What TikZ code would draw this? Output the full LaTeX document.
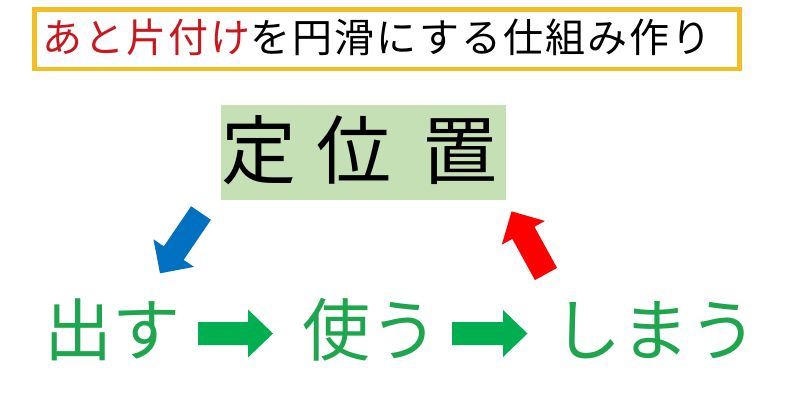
\documentclass[tikz,border=0pt]{standalone}
\usepackage{fontspec}
\newfontfamily\jp{Noto Sans CJK JP}
\newfontfamily\jptitle[LetterSpace=5.2]{Noto Sans CJK JP}
\definecolor{gold}{RGB}{242,190,34}
\definecolor{titlered}{RGB}{200,24,30}
\definecolor{boxgreen}{RGB}{197,224,180}
\definecolor{txtgreen}{RGB}{30,166,78}
\definecolor{arrgreen}{RGB}{0,176,80}
\definecolor{arrblue}{RGB}{0,112,192}
\definecolor{arrred}{RGB}{255,0,0}
% x, y, angle, colour, shaft length, head length, shaft half-width, head half-width
\newcommand\myblockarrow[8]{%
  \fill[#4, shift={(#1,#2)}, rotate=#3]
    (0,-#7) -- (#5,-#7) -- (#5,-#8) -- ({#5+#6},0) -- (#5,#8) -- (#5,#7) -- (0,#7) -- cycle;}
\tikzset{
  txt/.style={inner sep=0pt, anchor=base},
  titlebox/.style={draw=gold, line width=4.5pt, minimum width=705pt, minimum height=59.5pt, inner sep=0pt, fill=white},
  posbox/.style={fill=boxgreen, minimum width=285pt, minimum height=95pt, inner sep=0pt},
}
\begin{document}
\begin{tikzpicture}[x=1pt,y=-1pt]
\useasboundingbox[fill=white] (0,0) rectangle (800,418);
% title
\node[titlebox] (tbox) at (387,39.25) {};
\node[txt, anchor=base west] (title) at (42,52)
  {\jptitle\fontsize{40}{48}\selectfont\textcolor{titlered}{あと片付け}を円滑にする仕組み作り};
% position box
\node[posbox] (pbox) at (363.5,152.5) {};
\node[txt, anchor=base west] (pos) at (221.5,178.5)
  {\jp\fontsize{75}{90}\selectfont 定\hspace{20pt}位\hspace{31pt}置};
% bottom words
\node[txt, text=txtgreen] (dasu) at (112,355) {\jp\fontsize{68}{80}\selectfont 出す};
\node[txt, text=txtgreen] (tsukau) at (370,355) {\jp\fontsize{68}{80}\selectfont 使う};
\node[txt, text=txtgreen] (shimau) at (655,355) {\jp\fontsize{68}{80}\selectfont しまう};
% block arrows
\myblockarrow{198}{333.5}{0}{arrgreen}{50}{25}{11.5}{24}
\myblockarrow{452}{333.5}{0}{arrgreen}{51}{24.5}{11.5}{23.5}
\myblockarrow{201}{213}{-124.2}{arrblue}{48.5}{24.4}{12}{24.5}
\myblockarrow{546}{274}{118.8}{arrred}{47}{24.5}{12.6}{24.6}
\end{tikzpicture}
\end{document}
